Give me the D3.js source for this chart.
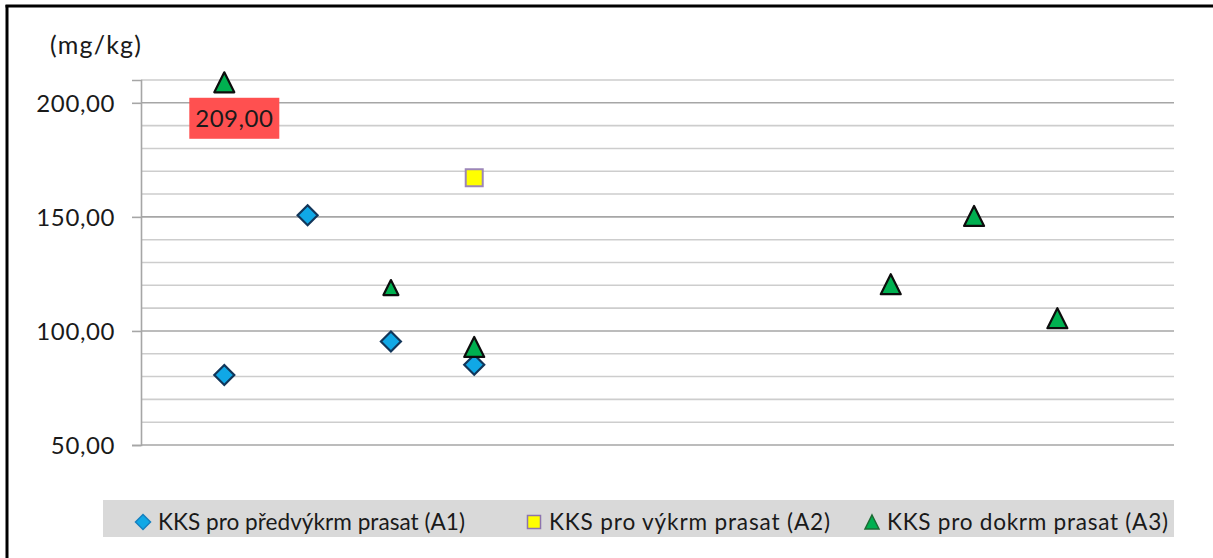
<!DOCTYPE html>
<html>
<head>
<meta charset="utf-8">
<script src="https://cdn.jsdelivr.net/npm/d3@7"></script>
<style>
  html, body { margin: 0; padding: 0; background: #fff; }
  svg { display: block; }
  text { font-family: Lato, "Open Sans", sans-serif; fill: #1a1a1a; }
</style>
</head>
<body>
<svg id="chart" width="1213" height="558"></svg>
<script>
// ---- data ----
const seriesNames = ["KKS pro předvýkrm prasat (A1)", "KKS pro výkrm prasat (A2)", "KKS pro dokrm prasat (A3)"];
const a1X = [1, 2, 3, 4];
const a1Y = [80.7, 150.7, 95.4, 85.2];
const a2X = [4];
const a2Y = [167.2];
const a3X = [1, 3, 4, 9, 10, 11];
const a3Y = [209, 119, 93, 120.5, 150.4, 105.6];
const yTicks = [50, 100, 150, 200];
const yMinor = [60, 70, 80, 90, 110, 120, 130, 140, 160, 170, 180, 190, 210];
const unitLabel = "(mg/kg)";
const dataLabelText = "209,00";

// ---- layout ----
const svg = d3.select("#chart");
const plot = { left: 141, right: 1174, top: 80, bottom: 445 };
const x = d3.scaleLinear().domain([0, 12.4]).range([plot.left, plot.right]);
const y = d3.scaleLinear().domain([50, 210]).range([plot.bottom, plot.top]);
const fmt = v => d3.format(".2f")(v).replace(".", ",");

// outer border (left and top visible)
svg.append("line").attr("x1", 7).attr("x2", 7).attr("y1", 5).attr("y2", 558)
  .attr("stroke", "#000").attr("stroke-width", 3);
svg.append("line").attr("x1", 5.5).attr("x2", 1213).attr("y1", 6).attr("y2", 6)
  .attr("stroke", "#000").attr("stroke-width", 3);

// gridlines
svg.append("g").selectAll("line").data(yMinor).join("line")
  .attr("x1", plot.left).attr("x2", plot.right)
  .attr("y1", d => y(d)).attr("y2", d => y(d))
  .attr("stroke", "#cdcdcd").attr("stroke-width", 1.6);
svg.append("g").selectAll("line").data(yTicks.filter(d => d !== 50)).join("line")
  .attr("x1", plot.left).attr("x2", plot.right)
  .attr("y1", d => y(d)).attr("y2", d => y(d))
  .attr("stroke", "#a6a6a6").attr("stroke-width", 1.6);

// y axis
const yAxis = d3.axisLeft(y).tickValues(yTicks).tickSize(9).tickPadding(17).tickFormat(fmt);
const ga = svg.append("g").attr("transform", `translate(${plot.left},0)`).call(yAxis);
ga.select(".domain").attr("stroke", "#a6a6a6").attr("stroke-width", 1.6);
ga.selectAll(".tick line").attr("stroke", "#a6a6a6").attr("stroke-width", 1.6);
ga.selectAll(".tick text").attr("font-family", "Lato, sans-serif").attr("font-size", 24)
  .attr("letter-spacing", 0.6).attr("fill", "#1a1a1a").attr("dy", "0.36em");
// bottom axis line (x axis baseline)
svg.append("line").attr("x1", plot.left).attr("x2", plot.right)
  .attr("y1", y(50)).attr("y2", y(50)).attr("stroke", "#a6a6a6").attr("stroke-width", 1.6);

// unit label
svg.append("text").attr("x", 50).attr("y", 54).attr("font-size", 25)
  .attr("letter-spacing", 1.2).text(unitLabel);

// marker shapes
const diamond = s => `M0,${-s/2}L${s/2},0L0,${s/2}L${-s/2},0Z`;
const triangle = s => `M0,${-s/2}L${s/2},${s/2}L${-s/2},${s/2}Z`;
const square = s => `M${-s/2},${-s/2}H${s/2}V${s/2}H${-s/2}Z`;

const a1 = a1X.map((d, i) => ({ x: d, y: a1Y[i] }));
const a2 = a2X.map((d, i) => ({ x: d, y: a2Y[i] }));
const a3 = a3X.map((d, i) => ({ x: d, y: a3Y[i], i }));

svg.append("g").selectAll("path").data(a1).join("path")
  .attr("transform", d => `translate(${x(d.x)},${y(d.y)})`)
  .attr("d", diamond(20))
  .attr("fill", "#10a8e6").attr("stroke", "#12365a").attr("stroke-width", 2.2);

svg.append("g").selectAll("path").data(a2).join("path")
  .attr("transform", d => `translate(${x(d.x)},${y(d.y)})`)
  .attr("d", square(17))
  .attr("fill", "#ffff00").attr("stroke", "#9c86b8").attr("stroke-width", 2);

svg.append("g").selectAll("path").data(a3).join("path")
  .attr("transform", d => `translate(${x(d.x)},${y(d.y)})`)
  .attr("d", d => triangle(d.i === 1 ? 15 : 20))
  .attr("fill", "#00b050").attr("stroke", "#0d0d0d").attr("stroke-width", 2.2)
  .attr("stroke-linejoin", "round");

// data label for the top point
const peak = a3[0];
const lbl = svg.append("g").attr("transform", `translate(${x(peak.x) + 10},${y(peak.y) + 36})`);
lbl.append("rect").attr("x", -45).attr("y", -20.5).attr("width", 90).attr("height", 41).attr("fill", "#ff5050");
lbl.append("text").attr("text-anchor", "middle").attr("dy", "0.36em").attr("font-size", 24)
  .attr("letter-spacing", 0.5).attr("fill", "#1a1a1a").text(dataLabelText);

// legend
const lg = svg.append("g");
lg.append("rect").attr("x", 103).attr("y", 500).attr("width", 1071).attr("height", 37).attr("fill", "#d9d9d9");
const legendItems = [
  { name: seriesNames[0], mx: 143, tx: 158, w: 307, shape: diamond(15), fill: "#10a8e6", stroke: "#1580c0" },
  { name: seriesNames[1], mx: 534, tx: 549, w: 281, shape: square(13), fill: "#ffff00", stroke: "#8d74ae" },
  { name: seriesNames[2], mx: 872, tx: 887, w: 281, shape: triangle(14), fill: "#00b050", stroke: "#1c6b34" }
];
const li = lg.selectAll("g").data(legendItems).join("g");
li.append("path").attr("transform", d => `translate(${d.mx},522)`).attr("d", d => d.shape)
  .attr("fill", d => d.fill).attr("stroke", d => d.stroke).attr("stroke-width", 1.5);
li.append("text").attr("x", d => d.tx).attr("y", 522).attr("dy", "0.36em").attr("font-size", 22.6)
  .attr("textLength", d => d.w).attr("lengthAdjust", "spacing")
  .text(d => d.name);
</script>
</body>
</html>
